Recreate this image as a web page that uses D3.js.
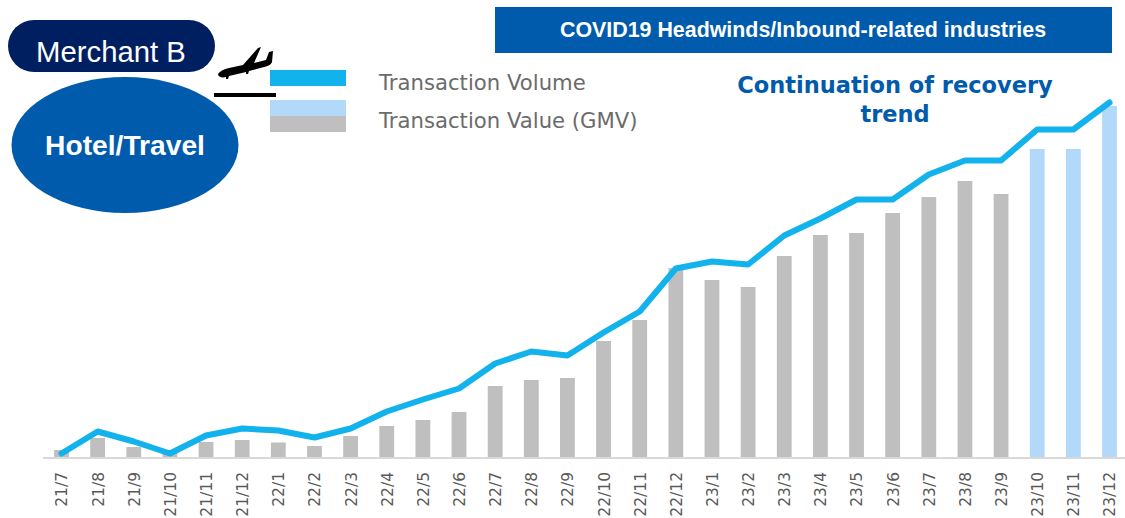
<!DOCTYPE html>
<html><head><meta charset="utf-8">
<script src="https://cdn.jsdelivr.net/npm/d3@7"></script>
<style>html,body{margin:0;padding:0;background:#fff;overflow:hidden}svg{display:block}</style>
</head><body><svg id="c" width="1125" height="518"></svg>
<script>
const months=["21/7","21/8","21/9","21/10","21/11","21/12","22/1","22/2","22/3","22/4","22/5","22/6","22/7","22/8","22/9","22/10","22/11","22/12","23/1","23/2","23/3","23/4","23/5","23/6","23/7","23/8","23/9","23/10","23/11","23/12"];
const gmv=[8,20,11,6,16,18,15.5,12,22,32,38,46,72,78,80,117,138,190,178,171,202,223,225,245,261,277,264,309,309,352];
const volume=[5,27,17,5,23,30,28,21,30,47,59,70,95,107,103,126,147,190,197,194,223,240,259,259,284,298,298,329,329,356];
const forecastFrom="23/10";
const svg=d3.select("#c");
const x=d3.scalePoint().domain(months).range([61.5,1109.5]);
const y=d3.scaleLinear().domain([0,358]).range([458,100]);
const barW=14.8;
const fc=months.indexOf(forecastFrom);
svg.append("g").selectAll("rect").data(months).join("rect")
 .attr("x",d=>x(d)-barW/2).attr("width",barW)
 .attr("y",(d,i)=>y(gmv[i])).attr("height",(d,i)=>y(0)-y(gmv[i]))
 .attr("fill",(d,i)=>i>=fc?"#b3d9fa":"#bfbfbf");
const ax=svg.append("g").attr("transform","translate(0,"+y(0)+")").call(d3.axisBottom(x).tickSize(0).tickPadding(0));
ax.select(".domain").attr("d","M43,0H1125").attr("stroke","#d9d9d9").attr("stroke-width",2);
ax.selectAll("text").attr("transform",d=>"translate(0,14) rotate(-90)").attr("x",0).attr("y",0).attr("dy","0.35em")
 .attr("text-anchor","end").attr("fill","#595959").style("font","15.5px 'DejaVu Sans'");
svg.append("path").datum(volume).attr("fill","none").attr("stroke","#12b2ec").attr("stroke-width",6)
 .attr("stroke-linecap","round").attr("stroke-linejoin","round")
 .attr("d",d3.line().x((d,i)=>x(months[i])).y(d=>y(d)+0.5));
// header
svg.append("rect").attr("x",495).attr("y",7).attr("width",617).attr("height",46).attr("fill","#005bac");
svg.append("text").attr("x",803).attr("y",37).attr("text-anchor","middle").attr("fill","#fff").style("font","bold 21.4px 'Liberation Sans'").text("COVID19 Headwinds/Inbound-related industries");
svg.append("rect").attr("x",8).attr("y",20).attr("width",207).attr("height",52).attr("rx",26).attr("fill","#001f60");
svg.append("text").attr("x",111).attr("y",62).attr("text-anchor","middle").attr("fill","#fff").style("font","29.3px 'Liberation Sans'").text("Merchant B");
svg.append("ellipse").attr("cx",125).attr("cy",145).attr("rx",113.5).attr("ry",68).attr("fill","#005bac");
svg.append("text").attr("x",125).attr("y",155).attr("text-anchor","middle").attr("fill","#fff").style("font","bold 28.2px 'Liberation Sans'").text("Hotel/Travel");
// plane
svg.append("path").attr("fill","#000").attr("d","M218,74 C220,71 224,69 229,68 L243,65 L258,48 L261,47 L254,63 L266,60 L269,52 L273,51 L272,62 C271,65 268,66 264,67 L249,71 L248,74 L246,74 L246,72 L229,76 L228,79 L226,79 L226,77 C222,78 218,77 218,74 Z");
svg.append("rect").attr("x",214).attr("y",93).attr("width",62).attr("height",4).attr("fill","#000");
// legend
svg.append("rect").attr("x",270).attr("y",70).attr("width",76).attr("height",16).attr("fill","#12b2ec");
svg.append("rect").attr("x",270).attr("y",100).attr("width",76).attr("height",16).attr("fill","#b3d9fa");
svg.append("rect").attr("x",270).attr("y",116).attr("width",76).attr("height",16).attr("fill","#bfbfbf");
svg.append("text").attr("x",379).attr("y",90).attr("fill","#6b6b6b").style("font","21.2px 'DejaVu Sans'").text("Transaction Volume");
svg.append("text").attr("x",379).attr("y",128).attr("fill","#6b6b6b").style("font","21.2px 'DejaVu Sans'").text("Transaction Value (GMV)");
// annotation
svg.append("text").attr("x",895).attr("y",93).attr("text-anchor","middle").attr("fill","#005bac").style("font","bold 22.5px 'DejaVu Sans'").text("Continuation of recovery");
svg.append("text").attr("x",895).attr("y",122).attr("text-anchor","middle").attr("fill","#005bac").style("font","bold 22.5px 'DejaVu Sans'").text("trend");
</script></body></html>
